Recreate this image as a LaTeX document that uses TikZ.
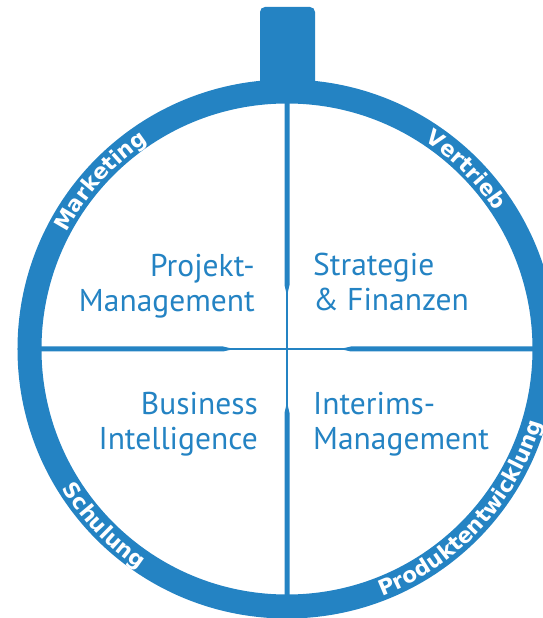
\documentclass[tikz,border=0pt]{standalone}
\usepackage{fontspec}
\setmainfont{PT Sans}
\newfontfamily\ringfont{DejaVu Sans}
\usepackage{tikz}
\usetikzlibrary{decorations.text}
\definecolor{wheelblue}{HTML}{2483C3}

\begin{document}
\begin{tikzpicture}[
            x=1pt, y=1pt,
            ring/.style={draw=wheelblue, line width=24pt},
            handle/.style={fill=wheelblue, rounded corners=5pt},
            spoke/.style={fill=wheelblue},
            hairline/.style={draw=wheelblue, line width=1.8pt},
            area/.style={text=wheelblue, inner sep=0pt, font=\fontsize{31.5}{35}\selectfont},
            ringlabel/.style={decorate, decoration={text along path, text align=center,
                text color=white, text={|\ringfont\bfseries\fontsize{21.5}{22}\selectfont|#1}}},
        ]
            \useasboundingbox (-287,-269) rectangle (256,349);

            % --- Griff oben und Ring ---
            \fill[handle] (-27,260) rectangle (28,342);
            \draw[ring] (0,0) circle (257.5);

            % --- Kreuz in der Mitte ---
            \draw[hairline] (-246,0) -- (246,0);
            \draw[hairline] (0,-246) -- (0,246);
            \foreach \a in {0, 90, 180, 270} {
                \fill[spoke, rotate=\a] (57,0.9) -- (64,2.5) -- (247,2.5) -- (247,-2.5) -- (64,-2.5) -- (57,-0.9) -- cycle;
            }

            % --- Felder ---
            \node[area, align=right, anchor=base east] (projekt) at (-32,37) {Projekt-\\Management};
            \node[area, align=left, anchor=base west] (strategie) at (26,38) {Strategie\\\& Finanzen};
            \node[area, align=right, anchor=base east] (business) at (-29,-100) {Business\\Intelligence};
            \node[area, align=left, anchor=base west] (interims) at (26,-100) {Interims-\\Management};

            % --- Beschriftung auf dem Ring ---
            \path[ringlabel=Marketing] (168:249.5) arc[start angle=168, end angle=108, radius=249.5];
            \path[ringlabel=Vertrieb] (75:249.5) arc[start angle=75, end angle=15, radius=249.5];
            \path[ringlabel=Schulung] (194:265) arc[start angle=194, end angle=254, radius=265];
            \path[ringlabel=Produktentwicklung] (277.5:265) arc[start angle=277.5, end angle=357.5, radius=265];
        \end{tikzpicture}
\end{document}
